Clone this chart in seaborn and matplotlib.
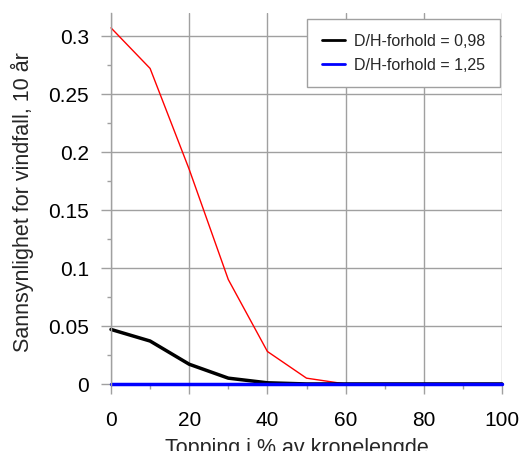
import matplotlib
matplotlib.use("Agg")
import matplotlib.pyplot as plt
import seaborn as sns
import pandas as pd
from matplotlib.ticker import MultipleLocator

topping = [0, 10, 20, 30, 40, 50, 60, 70, 80, 90, 100]
red_vals = [0.307, 0.272, 0.185, 0.090, 0.028, 0.005, 0.0, 0.0, 0.0, 0.0, 0.0]
black_vals = [0.047, 0.037, 0.017, 0.005, 0.001, 0.0, 0.0, 0.0, 0.0, 0.0, 0.0]
blue_vals = [0.0] * 11
label_black = "D/H-forhold = 0,98"
label_blue = "D/H-forhold = 1,25"
xtick_vals = [0, 20, 40, 60, 80, 100]
ytick_vals = [0, 0.05, 0.1, 0.15, 0.2, 0.25, 0.3]
ytick_labels = ["0", "0.05", "0.1", "0.15", "0.2", "0.25", "0.3"]

sns.set_theme(style="white")
plt.rcParams['font.family'] = ['Liberation Sans', 'DejaVu Sans']

W, H = 522, 452
PX = 72 / 100  # points per pixel
fig = plt.figure(figsize=(W/100, H/100), dpi=100)
ax = fig.add_axes([111/W, 1 - 386/H, (502-111)/W, (386-14)/H])

df = pd.DataFrame({"x": topping, "red": red_vals, "black": black_vals, "blue": blue_vals})
sns.lineplot(data=df, x="x", y="red", ax=ax, color="red", linewidth=1.0, label="_nolegend_", clip_on=False)
sns.lineplot(data=df, x="x", y="black", ax=ax, color="black", linewidth=2.5, label=label_black, clip_on=False)
sns.lineplot(data=df, x="x", y="blue", ax=ax, color="blue", linewidth=2.5, label=label_blue, clip_on=False)

ax.set_xlim(0, 100)
ax.set_ylim(-0.0009, 0.3198)
ax.xaxis.set_minor_locator(MultipleLocator(10))
ax.yaxis.set_minor_locator(MultipleLocator(0.025))
ax.set_yticks(ytick_vals)
ax.set_yticklabels(ytick_labels)
ax.set_xticks(xtick_vals)
ax.set_xticklabels([str(v) for v in xtick_vals])
ax.grid(True, which="major", color="#a0a0a0", linewidth=1.0)
for s in ["top", "right", "bottom"]:
    ax.spines[s].set_visible(False)
ax.spines["left"].set_color("#a0a0a0")
ax.spines["left"].set_linewidth(1.0)
ax.tick_params(axis="both", which="major", width=1, color="#a0a0a0", labelsize=15,
               bottom=True, left=True, labelcolor="black")
ax.tick_params(axis="y", which="major", length=10*PX, pad=12*PX)
ax.tick_params(axis="x", which="major", length=9*PX, pad=16*PX)
ax.tick_params(axis="both", which="minor", length=4*PX, width=1, color="#a0a0a0", bottom=True, left=True)

ax.set_xlabel("Topping i % av kronelengde", fontsize=15.5)
ax.xaxis.set_label_coords((297-111)/(502-111), -(454-386)/(386-14))
ax.xaxis.label.set_va("baseline")
ax.set_ylabel("Sannsynlighet for vindfall, 10 år", fontsize=15.5)
ax.yaxis.set_label_coords(-(111-22)/(502-111), (386-202)/(386-14))
ax.yaxis.label.set_va("center")

leg = ax.legend(loc="upper right", bbox_to_anchor=((500-111)/391, 1 - 6/372), fontsize=11.5, frameon=True,
                fancybox=False, shadow=False, handlelength=1.45, handletextpad=0.6,
                borderpad=0.9, labelspacing=0.55, borderaxespad=0.0,
                edgecolor="#a0a0a0", framealpha=1)
leg.get_frame().set_linewidth(1.0)
for line in leg.get_lines():
    line.set_linewidth(2.0)

fig.savefig("out.png", dpi=100)
